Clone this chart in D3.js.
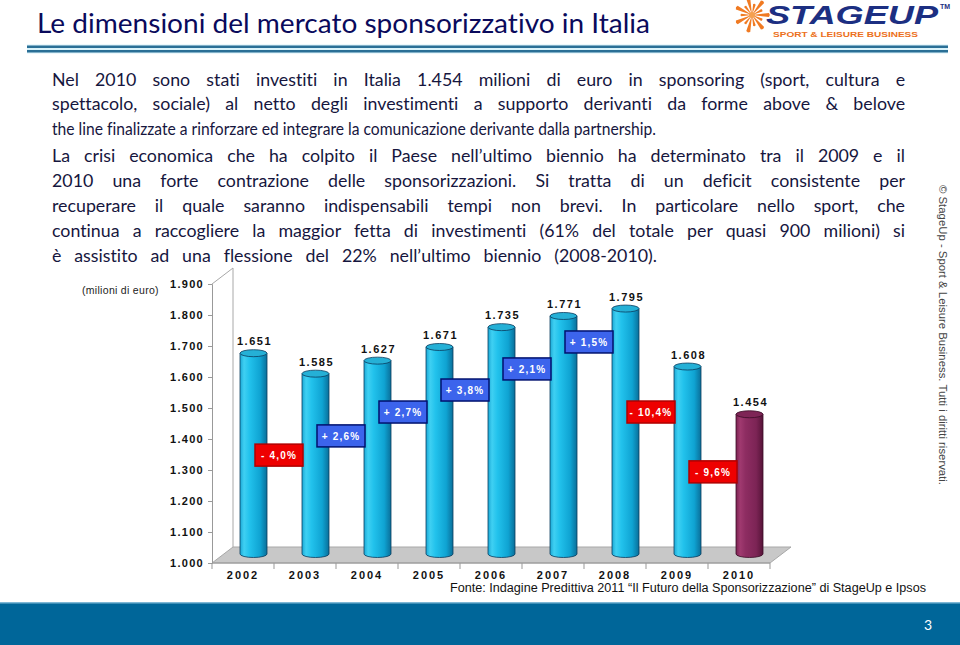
<!DOCTYPE html>
<html><head><meta charset="utf-8">
<script src="https://cdn.jsdelivr.net/npm/d3@7"></script>
<style>html,body{margin:0;padding:0;background:#fff;overflow:hidden}svg{display:block}text{font-variant-ligatures:none}</style>
</head><body>
<svg id="c" width="960" height="645"></svg>
<script>
// ---- data ----
const years = ["2002","2003","2004","2005","2006","2007","2008","2009","2010"];
const values = [1651,1585,1627,1671,1735,1771,1795,1608,1454];
const changes = ["- 4,0%","+ 2,6%","+ 2,7%","+ 3,8%","+ 2,1%","+ 1,5%","- 10,4%","- 9,6%"];
const changeLevels = [1348,1410,1487,1558,1626,1713,1487,1294]; // level (milioni) where each badge sits
const yTicks = [1000,1100,1200,1300,1400,1500,1600,1700,1800,1900];
const bodyLines = [
 "Nel 2010 sono stati investiti in Italia 1.454 milioni di euro in sponsoring (sport, cultura e",
 "spettacolo, sociale) al netto degli investimenti a supporto derivanti da forme above & belove",
 "the line finalizzate a rinforzare ed integrare la comunicazione derivante dalla partnership.",
 "La crisi economica che ha colpito il Paese nell\u2019ultimo biennio ha determinato tra il 2009 e il",
 "2010 una forte contrazione delle sponsorizzazioni. Si tratta di un deficit consistente per",
 "recuperare il quale saranno indispensabili tempi non brevi. In particolare nello sport, che",
 "continua a raccogliere la maggior fetta di investimenti (61% del totale per quasi 900 milioni) si",
 "\u00e8 assistito ad una flessione del 22% nell\u2019ultimo biennio (2008-2010)."
];

const svg = d3.select("#c");
const defs = svg.append("defs");

// ---- header ----
svg.append("text").attr("x",37).attr("y",33)
  .attr("font-family","Lato, 'Open Sans', sans-serif").attr("font-size",27)
  .attr("fill","#0a0a5c").attr("textLength",613).attr("lengthAdjust","spacingAndGlyphs")
  .text("Le dimensioni del mercato sponsorizzativo in Italia");

// double rule
svg.append("rect").attr("x",27).attr("y",44.5).attr("width",921).attr("height",9).attr("fill","#d8f2fa");
svg.append("rect").attr("x",27).attr("y",45.5).attr("width",921).attr("height",2.5).attr("fill","#2a6f96");
svg.append("rect").attr("x",27).attr("y",50).attr("width",921).attr("height",2.5).attr("fill","#2a6f96");

// logo
const star = svg.append("g").attr("transform","translate(752,15)");
d3.range(14).forEach(i=>{
  const a = i*Math.PI*2/14, r = (i%2? 11:17);
  star.append("path").attr("d",`M0,0L${Math.cos(a-0.12)*r},${Math.sin(a-0.12)*r}L${Math.cos(a)*r*1.05},${Math.sin(a)*r*1.05}L${Math.cos(a+0.12)*r},${Math.sin(a+0.12)*r}Z`)
    .attr("fill","#f07a22");
});
star.append("circle").attr("r",3).attr("fill","#f5a050");
svg.append("text").attr("x",766).attr("y",24).attr("font-family","'Liberation Sans', Arial, sans-serif")
  .attr("font-weight","bold").attr("font-style","italic").attr("font-size",26).attr("fill","#1c2f82")
  .attr("textLength",172).attr("lengthAdjust","spacingAndGlyphs").text("STAGEUP");
svg.append("text").attr("x",940).attr("y",9).attr("font-family","Arial, sans-serif").attr("font-weight","bold")
  .attr("font-size",7).attr("fill","#1c2f82").text("TM");
svg.append("text").attr("x",773).attr("y",37).attr("font-family","'Liberation Sans', Arial, sans-serif")
  .attr("font-weight","bold").attr("font-size",8).attr("fill","#ec7020")
  .attr("textLength",145).attr("lengthAdjust","spacingAndGlyphs").text("SPORT & LEISURE BUSINESS");

// ---- body text (fit to measured line widths via word spacing) ----
const baselines = [86,110,135,162,187,212,237,262];
const lineWidths = [853,853,604,853,853,853,853,605];
const body = svg.append("g").selectAll("text").data(bodyLines).join("text")
  .attr("x",52).attr("y",(d,i)=>baselines[i])
  .attr("font-family","Lato, 'Open Sans', sans-serif").attr("font-size",17.8).attr("fill","#16163e")
  .text(d=>d);
body.each(function(d,i){
  const t = d3.select(this);
  const w = this.getComputedTextLength();
  const spaces = (d.match(/ /g)||[]).length;
  if (w < lineWidths[i]) {
    t.attr("word-spacing", ((lineWidths[i]-w)/spaces).toFixed(2)+"px");
  } else if (w - lineWidths[i] > 2) {
    t.attr("textLength",lineWidths[i]).attr("lengthAdjust","spacingAndGlyphs");
  }
});

// ---- chart ----
const x = d3.scaleBand().domain(years).range([212,770]).padding(0);
const y = d3.scaleLinear().domain([1000,1900]).range([563,284]);
const DX = 21, DY = -16;
const bw = 27, ry = 3.5;

const itFmt = d3.formatLocale({decimal:",",thousands:".",grouping:[3],currency:["","€"]}).format(",");

const chart = svg.append("g");

// floor
const x0 = x.range()[0], x1 = x.range()[1], yb = y(1000);
chart.append("path")
  .attr("d",`M${x0},${yb}L${x0+DX},${yb+DY}L${x1+DX},${yb+DY}L${x1},${yb}Z`)
  .attr("fill","#c8c8c8").attr("stroke","#a8a8a8").attr("stroke-width",1);
// left wall edges
chart.append("path")
  .attr("d",`M${x0},${y(1900)}L${x0+DX},${y(1900)+DY}L${x0+DX},${yb+DY}`)
  .attr("fill","none").attr("stroke","#a8a8a8").attr("stroke-width",1);

// y axis
const yAxis = chart.append("g").attr("transform",`translate(${x0},0)`)
  .call(d3.axisLeft(y).tickValues(yTicks).tickFormat(itFmt).tickSize(4).tickPadding(4));
yAxis.select(".domain").attr("stroke","#999");
yAxis.selectAll(".tick line").attr("stroke","#999");
yAxis.selectAll("text").attr("font-family","'Liberation Sans', Arial, sans-serif").attr("font-size",11)
  .attr("font-weight","bold").attr("letter-spacing","1.3px").attr("fill","#111");

svg.append("text").attr("x",82).attr("y",294).attr("font-family","'Liberation Sans', Arial, sans-serif")
  .attr("font-size",10.5).attr("fill","#222").attr("letter-spacing","0.3px").text("(milioni di euro)");

// x axis
const boundaries = years.map(d=>x(d)).concat([x1]);
chart.append("g").selectAll("line").data(boundaries).join("line")
  .attr("x1",d=>d).attr("x2",d=>d).attr("y1",yb).attr("y2",yb+6).attr("stroke","#999");
chart.append("line").attr("x1",x0).attr("x2",x1).attr("y1",yb).attr("y2",yb).attr("stroke","#999");
const xAxis = chart.append("g").attr("transform",`translate(0,${yb+3})`)
  .call(d3.axisBottom(x).tickSize(0).tickPadding(5));
xAxis.select(".domain").remove();
xAxis.selectAll("text").attr("font-family","'Liberation Sans', Arial, sans-serif").attr("font-size",11)
  .attr("font-weight","bold").attr("letter-spacing","2px").attr("fill","#111");

// gradients
function grad(id, stops){
  const g = defs.append("linearGradient").attr("id",id).attr("x1","0").attr("x2","1").attr("y1","0").attr("y2","0");
  stops.forEach(s=>g.append("stop").attr("offset",s[0]).attr("stop-color",s[1]));
}
grad("gBlue",[[0,"#1aa8d6"],[0.15,"#3fd0f2"],[0.35,"#22c2ec"],[0.75,"#0fa3d2"],[1,"#0a6f9a"]]);
grad("gRed",[[0,"#7a2150"],[0.15,"#a03a70"],[0.35,"#8e2d62"],[0.75,"#7c2455"],[1,"#561438"]]);

const bars = chart.append("g").selectAll("g").data(years).join("g");
bars.each(function(yr,i){
  const g = d3.select(this);
  const cx = x(yr) + x.bandwidth()/2 + DX/2;
  const top = y(values[i]) + DY/2;
  const bot = y(1000) + DY/2 - 1;
  const last = i === years.length-1;
  const fill = last ? "url(#gRed)" : "url(#gBlue)";
  const stroke = last ? "#3a0c26" : "#0b3c5e";
  g.append("path")
    .attr("d",`M${cx-bw/2},${top}L${cx-bw/2},${bot}A${bw/2},${ry} 0 0 0 ${cx+bw/2},${bot}L${cx+bw/2},${top}Z`)
    .attr("fill",fill).attr("stroke",stroke).attr("stroke-width",0.8);
  g.append("ellipse").attr("cx",cx).attr("cy",top).attr("rx",bw/2).attr("ry",ry)
    .attr("fill",last ? "#7e2556" : "#25b0d6").attr("stroke",stroke).attr("stroke-width",0.8);
  g.append("text").attr("x",cx+1).attr("y",top-8).attr("text-anchor","middle")
    .attr("font-family","'Liberation Sans', Arial, sans-serif").attr("font-size",11).attr("font-weight","bold")
    .attr("letter-spacing","1.5px").attr("fill","#111").text(itFmt(values[i]));
});

// change badges
const badges = chart.append("g").selectAll("g").data(changes).join("g");
badges.each(function(txt,i){
  const g = d3.select(this);
  const cx = x(years[i+1]) + 5;
  const cy = y(changeLevels[i]);
  const neg = txt.trim().startsWith("-");
  const w = 48, h = 22;
  g.append("rect").attr("x",cx-w/2).attr("y",cy-h/2).attr("width",w).attr("height",h)
    .attr("fill",neg ? "#ee0000" : "#3c64ec").attr("stroke",neg ? "#b00000" : "#00116e").attr("stroke-width",1.5);
  g.append("text").attr("x",cx).attr("y",cy+4).attr("text-anchor","middle")
    .attr("font-family","'Liberation Sans', Arial, sans-serif").attr("font-size",10).attr("font-weight","bold")
    .attr("letter-spacing","1.2px").attr("fill","#fff").text(txt);
});

// source
svg.append("text").attr("x",450).attr("y",592).attr("font-family","'Liberation Sans Narrow','Liberation Sans', Arial, sans-serif")
  .attr("font-size",12).attr("fill","#111").attr("textLength",476).attr("lengthAdjust","spacingAndGlyphs")
  .text("Fonte: Indagine Predittiva 2011 \u201cIl Futuro della Sponsorizzazione\u201d di StageUp e Ipsos");

// vertical copyright
svg.append("text").attr("transform","translate(939,185) rotate(90)")
  .attr("font-family","'Liberation Sans', Arial, sans-serif").attr("font-size",11.5).attr("fill","#444")
  .attr("textLength",300).attr("lengthAdjust","spacingAndGlyphs")
  .text("\u00a9 StageUp - Sport & Leisure Business. Tutti i diritti riservati.");

// footer
svg.append("rect").attr("x",0).attr("y",603).attr("width",960).attr("height",42).attr("fill","#006699");
svg.append("rect").attr("x",0).attr("y",602).attr("width",960).attr("height",1.5).attr("fill","#7fb8d6");
svg.append("text").attr("x",924).attr("y",630).attr("font-family","Lato, sans-serif").attr("font-size",14)
  .attr("fill","#fff").text("3");
</script>
</body></html>
